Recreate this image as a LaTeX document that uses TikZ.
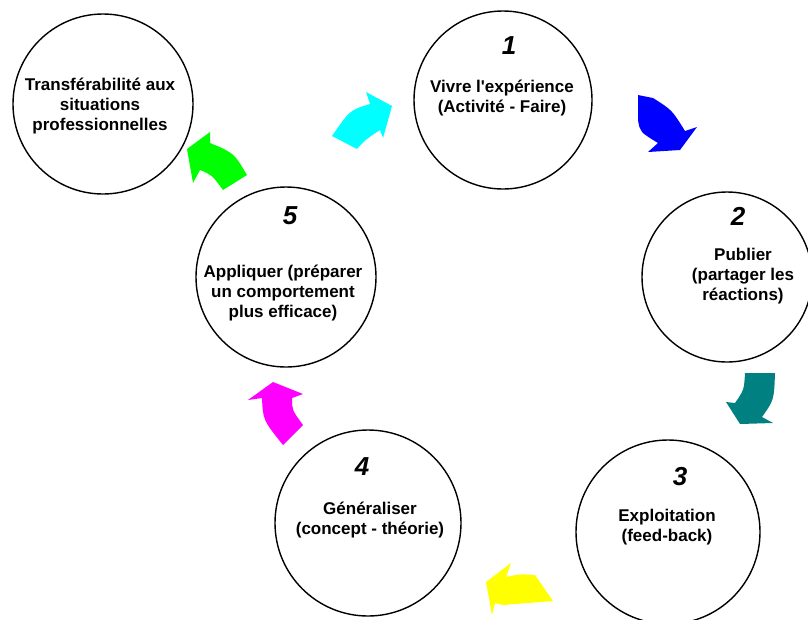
\documentclass[tikz,border=0pt]{standalone}
\usepackage{fontspec}
\setmainfont{Liberation Sans}

\definecolor{fcyan}{RGB}{0,255,255}
\definecolor{fbleu}{RGB}{0,0,255}
\definecolor{fteal}{RGB}{0,128,128}
\definecolor{fjaune}{RGB}{255,255,0}
\definecolor{fmagenta}{RGB}{255,0,255}
\definecolor{fvert}{RGB}{0,255,0}

\tikzset{
  etape/.style={draw, circle, line width=1.4pt, inner sep=0pt},
  texte/.style={align=center, font=\fontsize{17}{20}\selectfont\bfseries},
  numero/.style={font=\fontsize{26}{30}\selectfont\bfseries\itshape}
}

\begin{document}
\begin{tikzpicture}[x=1pt, y=-1pt]
  \clip (0,0) rectangle (808,619);

  % Transferabilite
  \node[etape, minimum size=180pt] (c0) at (103,104) {};
  \node[texte] (t0) at (100,106) {Transférabilité aux\\situations\\professionnelles};

  % Etape 1
  \node[etape, minimum size=178pt] (c1) at (503,100) {};
  \node[numero] (n1) at (509,46) {1};
  \node[texte] (t1) at (502,98) {Vivre l\textquotesingle expérience\\(Activité - Faire)};

  % Etape 2
  \node[etape, minimum size=170pt] (c2) at (727,277) {};
  \node[numero] (n2) at (738,216) {2};
  \node[texte] (t2) at (743,276) {Publier\\(partager les\\réactions)};

  % Etape 3
  \node[etape, minimum size=184pt] (c3) at (668,532) {};
  \node[numero] (n3) at (680,477) {3};
  \node[texte] (t3) at (667,527) {Exploitation\\(feed-back)};

  % Etape 4
  \node[etape, minimum size=186pt] (c4) at (368,523) {};
  \node[numero] (n4) at (362,467) {4};
  \node[texte] (t4) at (370,520) {Généraliser\\(concept - théorie)};

  % Etape 5
  \node[etape, minimum size=180pt] (c5) at (286,277) {};
  \node[numero] (n5) at (290,216) {5};
  \node[texte] (t5) at (283,293) {Appliquer (préparer\\un comportement\\plus efficace)};

  % Fleches
  \fill[fcyan] (332,136) -- (357,149) .. controls (365,140) .. (380,130) -- (383,138)
    -- (392,106) -- (366,92) -- (370,104) .. controls (350,110) .. (332,136) -- cycle;
  \fill[fbleu] (638,95) -- (653,98) .. controls (672,110) .. (685,131) -- (697,127)
    -- (680,150) -- (648,152) -- (658,143) .. controls (640,132) .. (638,120) -- cycle;
  \fill[fteal] (745,373) -- (775,373) .. controls (774,400) .. (762,417) -- (773,423)
    -- (740,424) -- (726,402) -- (735,403) .. controls (744,390) .. (745,373) -- cycle;
  \fill[fjaune] (535,575) -- (553,601) -- (503,605) -- (495,603) -- (492,615)
    -- (486,582) -- (511,563) -- (506,577) .. controls (520,574) .. (535,575) -- cycle;
  \fill[fmagenta] (283,445) -- (303,425) .. controls (292,410) .. (292,398) -- (303,394)
    -- (273,382) -- (248,400) -- (262,398) .. controls (263,420) .. (283,445) -- cycle;
  \fill[fvert] (223,190) -- (247,175) .. controls (235,155) .. (222,148) -- (210,143)
    -- (210,132) -- (187,149) -- (193,183) -- (200,170) .. controls (212,175) .. (223,190) -- cycle;
\end{tikzpicture}
\end{document}
